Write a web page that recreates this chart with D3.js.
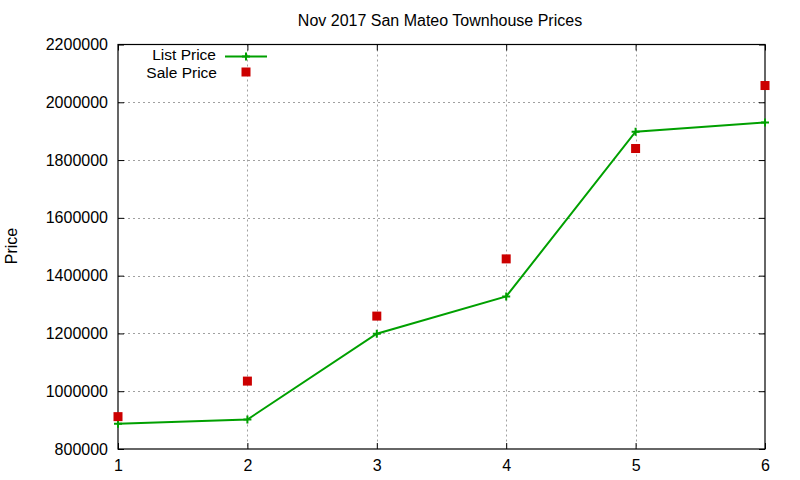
<!DOCTYPE html>
<html><head><meta charset="utf-8">
<script src="https://cdn.jsdelivr.net/npm/d3@7"></script>
<style>body{margin:0;background:#fff}svg{display:block}text{font-family:"Liberation Sans",Arial,sans-serif;fill:#000}</style>
</head><body>
<script>
const title = "Nov 2017 San Mateo Townhouse Prices";
const yLabel = "Price";
const xValues = [1, 2, 3, 4, 5, 6];
const listPrice = [887000, 902000, 1199000, 1328000, 1898000, 1930000];
const salePrice = [912000, 1035000, 1260000, 1458000, 1840000, 2058000];
const xTicks = [1, 2, 3, 4, 5, 6];
const yTicks = [800000, 1000000, 1200000, 1400000, 1600000, 1800000, 2000000, 2200000];
const seriesNames = ["List Price", "Sale Price"];

const W = 800, H = 480;
const L = 118, R = 765, T = 44.5, B = 449;
const green = "#00a000", red = "#cc0000";

const svg = d3.select("body").append("svg").attr("width", W).attr("height", H);
const x = d3.scaleLinear().domain([1, 6]).range([L, R]);
const y = d3.scaleLinear().domain([800000, 2200000]).range([B, T]);

// grid
const grid = svg.append("g").attr("stroke", "#a0a0a0").attr("stroke-width", 1).attr("stroke-dasharray", "2,3");
grid.selectAll(".gx").data(xTicks.slice(1, -1)).enter().append("line")
  .attr("x1", d => Math.round(x(d)) + 0.5).attr("x2", d => Math.round(x(d)) + 0.5)
  .attr("y1", T).attr("y2", B);
grid.selectAll(".gy").data(yTicks.slice(1, -1)).enter().append("line")
  .attr("y1", d => Math.round(y(d)) + 0.5).attr("y2", d => Math.round(y(d)) + 0.5)
  .attr("x1", L).attr("x2", R);

// axes
const fmt = d3.format("d");
const axL = svg.append("g").attr("transform", `translate(${L},0)`)
  .call(d3.axisLeft(y).tickValues(yTicks).tickFormat(fmt).tickSizeInner(-6).tickSizeOuter(0).tickPadding(10));
const axR = svg.append("g").attr("transform", `translate(${R},0)`)
  .call(d3.axisRight(y).tickValues(yTicks).tickFormat("").tickSizeInner(-6).tickSizeOuter(0));
const axB = svg.append("g").attr("transform", `translate(0,${B})`)
  .call(d3.axisBottom(x).tickValues(xTicks).tickFormat(fmt).tickSizeInner(-6).tickSizeOuter(0).tickPadding(10));
const axT = svg.append("g").attr("transform", `translate(0,${T})`)
  .call(d3.axisTop(x).tickValues(xTicks).tickFormat("").tickSizeInner(-6).tickSizeOuter(0));
[axL, axR, axB, axT].forEach(a => {
  a.attr("font-size", 16).attr("font-family", '"Liberation Sans",Arial,sans-serif');
  a.select(".domain").remove();
  a.selectAll("line").attr("stroke", "#000");
  a.selectAll("text").attr("font-size", 16).attr("fill", "#000");
});
axB.selectAll("text").attr("dy", "0.75em");
svg.append("rect").attr("x", L).attr("y", T).attr("width", R - L).attr("height", B - T)
  .attr("fill", "none").attr("stroke", "#000").attr("stroke-width", 1.2);

// list price line
const line = d3.line().x((d, i) => x(xValues[i])).y(d => y(d));
svg.append("path").datum(listPrice).attr("d", line).attr("fill", "none")
  .attr("stroke", green).attr("stroke-width", 2);
const cross = (g, cx, cy, s) => {
  g.append("path").attr("d", `M${cx - s},${cy}H${cx + s}M${cx},${cy - s}V${cy + s}`)
    .attr("stroke", green).attr("stroke-width", 2).attr("fill", "none");
};
const pts = svg.append("g");
listPrice.forEach((d, i) => cross(pts, x(xValues[i]), y(d), 4));

// sale squares
svg.append("g").selectAll("rect").data(salePrice).enter().append("rect")
  .attr("x", (d, i) => x(xValues[i]) - 4.5).attr("y", d => y(d) - 4.5)
  .attr("width", 9).attr("height", 9).attr("fill", red);

// legend
const lg = svg.append("g");
lg.append("text").attr("x", 216).attr("y", 60).attr("text-anchor", "end").attr("font-size", 15.5).text(seriesNames[0]);
lg.append("text").attr("x", 217).attr("y", 77.5).attr("text-anchor", "end").attr("font-size", 15.5).text(seriesNames[1]);
lg.append("line").attr("x1", 225).attr("x2", 267).attr("y1", 56.5).attr("y2", 56.5).attr("stroke", green).attr("stroke-width", 2);
cross(lg, 246, 56.5, 4);
lg.append("rect").attr("x", 241.5).attr("y", 67.5).attr("width", 9).attr("height", 9).attr("fill", red);

// title and y label
svg.append("text").attr("x", 440).attr("y", 26).attr("text-anchor", "middle").attr("font-size", 16).text(title);
svg.append("text").attr("transform", "translate(17,246) rotate(-90)").attr("text-anchor", "middle").attr("font-size", 16).text(yLabel);
</script>
</body></html>
